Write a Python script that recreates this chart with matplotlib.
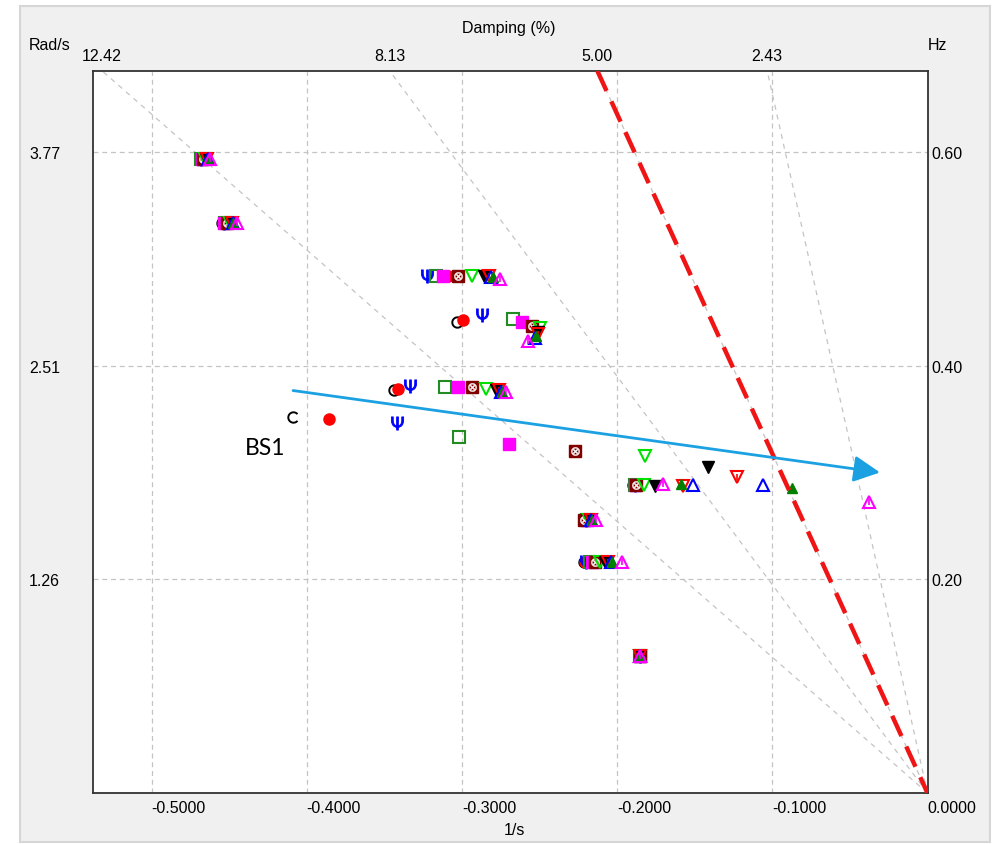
import numpy as np
import matplotlib
matplotlib.use("Agg")
import matplotlib.pyplot as plt
from matplotlib.path import Path
from matplotlib.patches import Rectangle
import matplotlib.transforms as mtransforms

plt.rcParams['font.family'] = ['Liberation Sans', 'DejaVu Sans']

# ---------------- data (sigma in 1/s, omega in rad/s), 10 modes per case ----------------
sig_a = [-0.4688, -0.4546, -0.3102, -0.3032, -0.3438, -0.4088, -0.1898, -0.2213, -0.2213, -0.1852]
w_a   = [3.728, 3.356, 3.044, 2.774, 2.374, 2.215, 1.810, 1.604, 1.357, 0.804]
sig_b = [-0.4688, -0.4540, -0.3090, -0.2993, -0.3412, -0.3856, -0.1891, -0.2207, -0.2207, -0.1852]
w_b   = [3.728, 3.356, 3.044, 2.785, 2.380, 2.198, 1.810, 1.604, 1.357, 0.804]
sig_c = [-0.4681, -0.4533, -0.3225, -0.2870, -0.3334, -0.3418, -0.1885, -0.2200, -0.2200, -0.1852]
w_c   = [3.728, 3.356, 3.044, 2.815, 2.397, 2.180, 1.810, 1.604, 1.357, 0.804]
sig_d = [-0.4681, -0.4527, -0.3167, -0.2671, -0.3109, -0.3019, -0.1885, -0.2194, -0.2175, -0.1852]
w_d   = [3.728, 3.356, 3.044, 2.791, 2.386, 2.092, 1.810, 1.604, 1.357, 0.804]
sig_e = [-0.4675, -0.4533, -0.3122, -0.2613, -0.3025, -0.2697, -0.1885, -0.2194, -0.2162, -0.1852]
w_e   = [3.728, 3.356, 3.044, 2.774, 2.386, 2.056, 1.810, 1.604, 1.357, 0.804]
sig_f = [-0.4668, -0.4514, -0.3025, -0.2548, -0.2935, -0.2271, -0.1879, -0.2213, -0.2142, -0.1852]
w_f   = [3.728, 3.356, 3.044, 2.750, 2.386, 2.015, 1.810, 1.604, 1.357, 0.804]
sig_g = [-0.4655, -0.4494, -0.2935, -0.2497, -0.2845, -0.1820, -0.1827, -0.2181, -0.2110, -0.1852]
w_g   = [3.728, 3.356, 3.044, 2.738, 2.380, 1.980, 1.810, 1.604, 1.357, 0.804]
sig_h = [-0.4649, -0.4488, -0.2858, -0.2510, -0.2780, -0.1414, -0.1756, -0.2175, -0.2078, -0.1852]
w_h   = [3.728, 3.356, 3.044, 2.715, 2.374, 1.921, 1.804, 1.604, 1.357, 0.804]
sig_i = [-0.4642, -0.4482, -0.2825, -0.2510, -0.2761, -0.1227, -0.1575, -0.2168, -0.2059, -0.1852]
w_i   = [3.728, 3.356, 3.044, 2.703, 2.374, 1.862, 1.804, 1.604, 1.357, 0.804]
sig_j = [-0.4636, -0.4475, -0.2813, -0.2529, -0.2748, -0.1060, -0.1511, -0.2168, -0.2039, -0.1852]
w_j   = [3.728, 3.356, 3.035, 2.680, 2.362, 1.810, 1.815, 1.604, 1.357, 0.804]
sig_k = [-0.4636, -0.4475, -0.2800, -0.2523, -0.2742, -0.0873, -0.1588, -0.2162, -0.2033, -0.1852]
w_k   = [3.728, 3.356, 3.035, 2.691, 2.362, 1.792, 1.821, 1.604, 1.357, 0.804]
sig_l = [-0.4623, -0.4449, -0.2755, -0.2574, -0.2716, -0.0377, -0.1704, -0.2136, -0.1968, -0.1852]
w_l   = [3.728, 3.356, 3.026, 2.662, 2.362, 1.715, 1.821, 1.604, 1.357, 0.804]

x_ticks = [-0.5, -0.4, -0.3, -0.2, -0.1, 0.0]
x_tick_labels = ['-0.5000', '-0.4000', '-0.3000', '-0.2000', '-0.1000', '0.0000']
hz_ticks = [0.20, 0.40, 0.60]
hz_tick_labels = ['0.20', '0.40', '0.60']
rad_tick_labels = ['1.26', '2.51', '3.77']
damping_pct = [12.42, 8.13, 5.00, 2.43]
damping_labels = ['12.42', '8.13', '5.00', '2.43']
highlight_damping = 5.00
arrow_start = (-0.4088, 2.368)
arrow_end = (-0.0306, 1.886)
bs1_pos = (-0.4269, 2.033)

# ---------------- figure ----------------
fig = plt.figure(figsize=(10, 8.45), dpi=100)
fig.patch.set_facecolor('white')
fig.patches.append(Rectangle((20 / 1000, 1 - 843 / 845), 970 / 1000, 836 / 845,
                             transform=fig.transFigure, facecolor='#f0f0f0',
                             edgecolor='#d6d6d6', lw=1.5, zorder=-10))

ax = fig.add_axes([0.0927, 1 - 794 / 845, (927.5 - 92.7) / 1000, (794 - 71.7) / 845])
ax.set_facecolor('white')
YTOP = 4.25
ax.set_xlim(-0.5379, 0.0)
ax.set_ylim(0, YTOP)

grid_kw = dict(color='#c4c4c4', lw=0.9, dashes=(4, 3), zorder=1)
for xv in x_ticks[:-1]:
    ax.axvline(xv, **grid_kw)
rad_ticks = [2 * np.pi * h for h in hz_ticks]
for yv in rad_ticks:
    ax.axhline(yv, **grid_kw)

# damping lines
trans_top = mtransforms.blended_transform_factory(ax.transData, ax.transAxes)
for z, lab in zip(damping_pct, damping_labels):
    zeta = z / 100.0
    k = zeta / np.sqrt(1 - zeta ** 2)
    ax.plot([0, -k * YTOP], [0, YTOP], color='#c4c4c4', lw=0.9, dashes=(4, 4), zorder=1)
    ax.text(-k * YTOP, 1.0204, lab, transform=trans_top, ha='center', va='center',
            fontsize=11.5, clip_on=False)

# highlighted 5% line
zh = highlight_damping / 100.0
kh = zh / np.sqrt(1 - zh ** 2)
ax.plot([-kh * YTOP, 0], [YTOP, 0], color='#f01414', lw=3.2, dashes=(5, 2.6),
        zorder=6, solid_capstyle='butt', dash_capstyle='butt')

# markers
c_marker = Path.arc(40, 320)
ms = 8.5
ax.plot(sig_a, w_a, ls='none', marker=c_marker, ms=7.5, mfc='none', mec='black', mew=1.4, zorder=3)
ax.plot(sig_b, w_b, ls='none', marker='o', ms=8, mfc='#ff0000', mec='#ff0000', zorder=3)
ax.plot(sig_c, w_c, ls='none', marker='$\\Psi$', ms=9.5, mfc='#0000ff', mec='#0000ff', mew=0.6, zorder=3)
ax.plot(sig_d, w_d, ls='none', marker='s', ms=ms, mfc='none', mec='#228b22', mew=1.5, zorder=3)
ax.plot(sig_e, w_e, ls='none', marker='s', ms=ms, mfc='#ff00ff', mec='#ff00ff', zorder=3)
ax.plot(sig_f, w_f, ls='none', marker='s', ms=ms, mfc='#800000', mec='#800000', zorder=3)
ax.plot(sig_f, w_f, ls='none', marker='$\\otimes$', ms=6, mfc='white', mec='white', mew=0.3, zorder=3)
ax.plot(sig_g, w_g, ls='none', marker='v', ms=ms, mfc='none', mec='#00e000', mew=1.5, zorder=3)
ax.plot(sig_h, w_h, ls='none', marker='v', ms=ms, mfc='black', mec='black', zorder=3)
ax.plot(sig_i, w_i, ls='none', marker='v', ms=ms, mfc='none', mec='#ff0000', mew=1.5, zorder=3)
ax.plot(sig_i, w_i, ls='none', marker='|', ms=4.5, mec='#ff0000', mew=1.2, zorder=3)
ax.plot(sig_j, w_j, ls='none', marker='^', ms=ms, mfc='none', mec='#0000ff', mew=1.5, zorder=3)
ax.plot(sig_k, w_k, ls='none', marker='^', ms=7.5, mfc='#008000', mec='#008000', zorder=3)
ax.plot(sig_l, w_l, ls='none', marker='^', ms=ms, mfc='none', mec='#ff00ff', mew=1.5, zorder=3)
ax.plot(sig_l, w_l, ls='none', marker='|', ms=4.5, mec='#ff00ff', mew=1.2, zorder=3)

# annotation arrow + BS1
ax.annotate('', xy=arrow_end, xytext=arrow_start,
            arrowprops=dict(arrowstyle='-|>,head_length=0.8,head_width=0.4',
                            color='#1ba1e2', lw=2.0, mutation_scale=20,
                            shrinkA=0, shrinkB=0), zorder=7)
ax.text(bs1_pos[0], bs1_pos[1], 'BS1', fontsize=16.5, family=['Lato', 'DejaVu Sans'],
        ha='center', va='center', zorder=7)

# axes styling
for sp in ax.spines.values():
    sp.set_color('#333333')
    sp.set_linewidth(1.3)
ax.set_xticks(x_ticks)
ax.set_xticklabels(x_tick_labels)
for lab in ax.get_xticklabels():
    lab.set_horizontalalignment('left')
ax.set_yticks(rad_ticks)
ax.set_yticklabels(rad_tick_labels)
for lab in ax.get_yticklabels():
    lab.set_horizontalalignment('left')
ax.tick_params(axis='x', length=0, pad=5, labelsize=11.5)
ax.tick_params(axis='y', length=0, pad=45.8, labelsize=11.5)

ax2 = ax.twinx()
ax2.set_ylim(0, YTOP / (2 * np.pi))
ax2.set_yticks(hz_ticks)
ax2.set_yticklabels(hz_tick_labels)
ax2.tick_params(axis='y', length=0, pad=2.5, labelsize=11.5)
for sp in ax2.spines.values():
    sp.set_visible(False)

fig.text(29 / 1000, 1 - 46 / 845, 'Rad/s', ha='left', va='center', fontsize=11.5)
fig.text(928 / 1000, 1 - 46 / 845, 'Hz', ha='left', va='center', fontsize=11.5)
fig.text(509 / 1000, 1 - 29 / 845, 'Damping (%)', ha='center', va='center', fontsize=11.5)
fig.text(514 / 1000, 1 - 831 / 845, '1/s', ha='center', va='center', fontsize=11.5)

fig.savefig('out.png', dpi=100)
